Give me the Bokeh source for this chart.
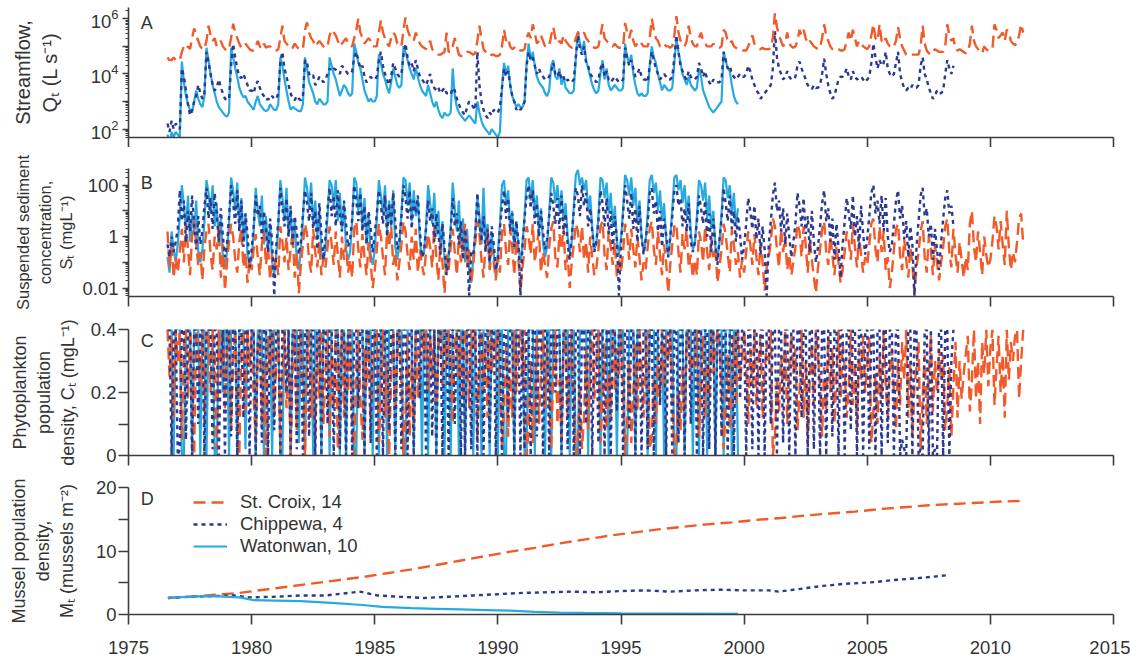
from bokeh.plotting import figure
from bokeh.layouts import column
from bokeh.models import Range1d, FixedTicker, Label, Legend, LegendItem
from bokeh.embed import file_html
from bokeh.resources import INLINE

# ---------------------------------------------------------------------------
# Monthly model output for three rivers, first record August 1976.
# Streamflow and sediment are given as log10 of the value.
# ---------------------------------------------------------------------------
YEAR0 = 1976 + 7 / 12

# Streamflow Q_t, log10(L s-1)
stcroix_flow_log10 = sum([
    [4.6, 4.5, 4.5, 4.6, 4.5],
    [4.5, 4.5, 4.8, 5.0, 4.9, 5.0, 4.9, 5.3, 5.65, 5.4, 5.2, 5.0],
    [4.9, 4.9, 5.2, 5.75, 5.4, 5.2, 5.3, 5.0, 5.1, 5.2, 5.0, 4.9],
    [4.85, 4.9, 5.3, 5.82, 5.5, 5.3, 5.1, 4.95, 5.0, 5.1, 5.0, 4.9],
    [4.85, 4.85, 5.0, 5.2, 5.0, 4.9, 5.1, 4.95, 5.0, 5.0, 4.9, 4.85],
    [4.85, 4.9, 5.3, 5.75, 5.2, 5.1, 5.0, 4.9, 4.95, 5.1, 5.0, 4.9],
    [4.9, 4.9, 5.6, 5.87, 5.5, 5.3, 5.2, 5.0, 5.1, 5.2, 5.1, 5.0],
    [4.95, 5.0, 5.4, 5.6, 5.5, 5.4, 5.2, 5.0, 5.1, 5.2, 5.3, 5.1],
    [5.0, 5.0, 5.3, 5.6, 6.0, 5.5, 5.3, 5.1, 5.2, 5.3, 5.2, 5.0],
    [5.0, 5.0, 5.5, 5.94, 5.5, 5.3, 5.1, 5.0, 5.3, 5.5, 5.4, 5.1],
    [5.0, 5.0, 5.6, 6.05, 5.6, 5.4, 5.3, 5.2, 5.5, 5.3, 5.1, 5.0],
    [4.95, 4.9, 5.1, 5.2, 4.9, 4.8, 4.75, 4.7, 4.7, 4.75, 4.8, 5.5],
    [4.8, 4.8, 5.0, 5.3, 5.0, 4.7, 4.65, 4.65, 4.7, 4.8, 4.8, 4.75],
    [4.7, 4.75, 5.2, 5.75, 5.3, 4.9, 4.8, 4.7, 4.65, 4.7, 4.7, 4.65],
    [4.65, 4.7, 5.0, 5.6, 5.2, 5.3, 5.0, 4.9, 4.95, 5.0, 4.9, 4.85],
    [4.85, 4.9, 5.3, 5.5, 5.3, 5.8, 5.5, 5.1, 5.2, 5.4, 5.2, 5.0],
    [5.0, 5.0, 5.4, 5.7, 5.3, 5.1, 5.2, 5.1, 5.4, 5.2, 5.1, 5.0],
    [4.95, 5.0, 5.3, 5.5, 5.4, 5.4, 5.5, 5.3, 5.2, 5.1, 5.0, 4.95],
    [4.95, 5.0, 5.4, 5.8, 5.3, 5.2, 5.1, 5.0, 5.0, 5.1, 5.0, 4.95],
    [4.95, 4.95, 5.85, 5.5, 5.3, 5.6, 5.2, 5.0, 5.1, 5.2, 5.1, 5.0],
    [5.0, 5.0, 5.3, 6.0, 5.6, 5.3, 5.2, 5.0, 5.0, 5.1, 5.0, 5.0],
    [4.95, 5.0, 5.4, 6.1, 5.5, 5.2, 5.1, 5.0, 5.2, 5.75, 5.3, 5.1],
    [5.0, 5.0, 5.3, 5.5, 5.2, 5.1, 5.0, 5.0, 5.0, 5.1, 5.0, 4.95],
    [4.95, 5.0, 5.6, 5.5, 5.2, 5.1, 5.2, 5.0, 4.95, 4.9, 4.85, 4.85],
    [4.85, 4.85, 5.0, 5.2, 5.4, 5.1, 5.0, 4.95, 4.9, 4.95, 4.9, 4.9],
    [4.9, 4.95, 5.3, 6.2, 5.7, 5.4, 5.2, 5.0, 5.1, 5.5, 5.1, 5.0],
    [4.95, 5.0, 5.2, 5.6, 5.4, 5.6, 5.3, 5.1, 5.2, 5.1, 5.0, 4.95],
    [4.9, 4.95, 5.3, 5.8, 5.4, 5.2, 5.0, 4.9, 4.85, 4.9, 4.9, 4.85],
    [4.85, 4.9, 5.2, 5.5, 5.2, 5.6, 5.3, 5.0, 5.2, 5.1, 5.0, 4.95],
    [4.9, 5.0, 5.4, 5.8, 5.3, 5.2, 5.8, 5.2, 5.1, 5.3, 5.1, 5.0],
    [4.95, 5.0, 5.2, 5.7, 5.3, 5.0, 4.85, 4.7, 4.65, 4.7, 4.7, 4.7],
    [4.7, 4.7, 5.0, 5.75, 5.1, 4.85, 4.75, 4.7, 4.8, 4.9, 4.85, 4.8],
    [4.8, 4.8, 5.0, 5.8, 5.4, 5.2, 5.3, 4.9, 4.85, 4.9, 4.85, 4.8],
    [4.75, 4.8, 5.1, 5.75, 5.2, 5.0, 4.9, 4.8, 4.75, 5.0, 4.9, 4.85],
    [4.85, 4.9, 5.8, 5.6, 5.3, 5.4, 5.5, 5.2, 5.6, 5.5, 5.2, 5.1],
    [5.05, 5.1, 5.4, 5.8, 5.5],
], [])

chippewa_flow_log10 = sum([
    [2.2, 1.9, 2.3, 2.0, 2.2],
    [2.1, 2.0, 4.2, 3.9, 3.4, 2.9, 2.5, 2.7, 3.0, 3.2, 3.6, 3.3],
    [3.1, 3.3, 4.8, 4.4, 4.0, 3.6, 3.4, 3.5, 3.8, 3.5, 3.3, 3.1],
    [3.05, 3.1, 4.3, 5.09, 4.6, 4.2, 3.9, 3.85, 4.0, 3.8, 3.6, 3.4],
    [3.4, 3.3, 3.6, 3.74, 3.5, 3.3, 3.2, 3.05, 3.1, 3.05, 3.2, 3.1],
    [3.1, 3.3, 4.45, 4.8, 4.2, 3.9, 3.6, 3.3, 3.1, 3.05, 3.2, 3.1],
    [3.05, 3.2, 4.5, 4.4, 4.0, 3.9, 3.95, 3.6, 3.7, 3.9, 3.8, 3.7],
    [3.8, 4.0, 4.2, 4.1, 4.2, 4.15, 4.1, 4.0, 4.3, 4.2, 4.1, 4.0],
    [4.0, 4.1, 4.6, 4.8, 4.5, 4.2, 4.3, 3.9, 3.7, 3.8, 3.9, 3.8],
    [3.8, 3.9, 4.5, 4.8, 4.3, 4.0, 3.8, 3.6, 3.9, 4.4, 4.2, 4.0],
    [3.9, 4.0, 4.7, 5.1, 4.6, 4.3, 4.4, 4.1, 4.5, 4.2, 3.9, 3.8],
    [3.7, 3.6, 3.8, 4.0, 3.6, 3.5, 3.4, 3.5, 3.3, 3.4, 3.5, 3.3],
    [3.3, 3.25, 3.5, 3.4, 3.1, 2.9, 2.7, 2.6, 2.5, 2.8, 3.0, 2.9],
    [2.8, 2.7, 4.8, 3.6, 3.0, 2.7, 2.5, 2.4, 2.6, 2.5, 2.7, 2.6],
    [2.6, 2.8, 3.5, 4.2, 3.9, 4.1, 3.6, 3.2, 3.0, 2.7, 2.8, 2.7],
    [2.8, 3.0, 4.3, 4.8, 4.5, 4.6, 4.3, 4.0, 4.2, 4.0, 3.9, 3.8],
    [3.8, 3.9, 4.1, 4.4, 4.0, 3.9, 4.1, 3.8, 3.9, 3.7, 3.8, 3.7],
    [3.7, 3.8, 4.6, 5.4, 4.9, 4.7, 5.0, 4.4, 4.3, 4.0, 3.9, 3.8],
    [3.7, 3.8, 4.2, 4.4, 3.9, 4.1, 3.8, 3.7, 3.8, 3.9, 3.8, 3.7],
    [3.7, 3.8, 4.95, 4.6, 4.3, 4.5, 4.2, 3.9, 4.0, 4.2, 3.9, 3.8],
    [3.8, 3.7, 4.3, 4.8, 4.5, 4.2, 4.0, 3.8, 3.9, 4.0, 3.9, 3.8],
    [3.8, 3.9, 4.6, 5.4, 4.8, 4.3, 4.1, 3.9, 3.8, 4.1, 3.9, 3.8],
    [3.8, 3.9, 4.4, 4.2, 3.9, 4.1, 3.8, 3.7, 3.6, 3.8, 3.7, 3.7],
    [3.7, 3.8, 4.8, 4.5, 4.2, 4.3, 4.0, 3.9, 3.8, 3.9, 4.0, 3.9],
    [3.9, 4.0, 4.3, 4.1, 3.8, 3.6, 3.4, 3.3, 3.1, 3.2, 3.3, 3.4],
    [3.5, 3.6, 4.2, 5.55, 4.6, 4.2, 4.0, 3.8, 3.9, 4.1, 3.9, 3.8],
    [3.8, 3.9, 4.3, 4.45, 4.2, 4.0, 3.8, 3.6, 3.5, 3.45, 3.6, 3.5],
    [3.5, 3.6, 4.0, 4.55, 4.0, 3.6, 3.3, 3.1, 3.2, 3.5, 3.8, 3.9],
    [3.9, 4.0, 4.2, 3.9, 3.8, 4.1, 3.9, 3.8, 3.85, 3.9, 3.8, 3.7],
    [3.8, 3.9, 4.4, 5.1, 4.6, 4.2, 4.5, 4.3, 4.4, 4.8, 4.2, 4.0],
    [3.9, 4.0, 4.4, 4.8, 4.0, 3.7, 3.5, 3.4, 3.5, 3.45, 3.6, 3.5],
    [3.5, 3.6, 4.3, 4.6, 4.0, 3.8, 3.5, 3.3, 3.1, 3.2, 3.4, 3.3],
    [3.3, 3.4, 4.0, 4.5, 4.2, 4.0, 4.3],
], [])

watonwan_flow_log10 = sum([
    [1.8, 1.5, 1.9, 1.7, 1.9],
    [1.8, 1.7, 4.45, 3.7, 3.2, 2.9, 2.7, 2.6, 3.0, 3.4, 3.1, 2.9],
    [2.8, 3.2, 4.95, 4.5, 4.0, 3.6, 3.3, 3.0, 2.8, 2.7, 2.6, 2.5],
    [2.45, 2.6, 4.95, 4.6, 4.2, 3.9, 3.5, 3.3, 3.15, 3.2, 3.0, 2.9],
    [2.8, 2.7, 3.0, 3.2, 2.9, 2.8, 2.7, 2.65, 2.7, 2.9, 2.8, 2.7],
    [2.7, 2.9, 4.6, 4.3, 3.8, 3.4, 3.0, 2.7, 2.8, 2.75, 2.7, 2.65],
    [2.65, 2.9, 4.6, 4.2, 3.7, 3.5, 3.3, 3.0, 2.9, 3.1, 3.0, 2.9],
    [2.9, 3.0, 4.6, 4.3, 4.0, 3.8, 3.5, 3.2, 3.4, 3.6, 3.5, 3.3],
    [3.2, 3.3, 5.1, 4.8, 4.4, 4.2, 3.8, 3.4, 3.2, 3.0, 3.1, 3.0],
    [3.0, 3.2, 4.7, 4.4, 4.0, 3.8, 3.5, 3.3, 3.7, 4.2, 3.9, 3.6],
    [3.5, 3.6, 5.0, 4.8, 4.5, 4.2, 4.0, 3.8, 4.2, 3.9, 3.6, 3.4],
    [3.3, 3.2, 3.6, 3.3, 3.0, 2.8, 3.0, 2.7, 2.5, 2.4, 2.6, 2.5],
    [2.5, 2.6, 4.2, 3.2, 2.8, 2.6, 2.5, 2.4, 2.3, 2.4, 2.5, 2.4],
    [2.3, 2.2, 3.0, 2.6, 2.3, 2.1, 2.0, 1.9, 1.8, 2.0, 1.9, 1.8],
    [1.7, 1.9, 3.5, 4.4, 4.0, 4.3, 3.6, 3.2, 3.0, 2.8, 2.9, 2.8],
    [2.8, 3.0, 4.4, 5.1, 4.5, 4.8, 4.3, 3.9, 3.7, 3.6, 3.5, 3.3],
    [3.2, 3.4, 4.3, 4.5, 3.9, 3.8, 4.2, 3.6, 3.9, 3.5, 3.4, 3.3],
    [3.3, 3.4, 4.6, 5.55, 5.1, 4.8, 5.2, 4.5, 4.2, 3.9, 3.6, 3.4],
    [3.3, 3.4, 4.0, 4.5, 3.8, 4.2, 3.6, 3.4, 3.5, 3.6, 3.5, 3.4],
    [3.4, 3.5, 5.1, 4.6, 4.4, 4.7, 4.0, 3.6, 3.3, 3.2, 3.3, 3.2],
    [3.2, 3.3, 4.3, 5.0, 4.6, 4.4, 4.0, 3.7, 3.4, 3.6, 3.5, 3.4],
    [3.4, 3.5, 4.4, 5.3, 4.8, 4.4, 4.0, 3.8, 3.6, 3.9, 3.6, 3.5],
    [3.4, 3.5, 4.2, 3.9, 3.4, 3.2, 3.0, 2.8, 2.7, 2.6, 2.7, 2.8],
    [2.9, 3.0, 4.8, 4.5, 4.2, 4.1, 3.6, 3.2, 3.0, 2.9],
], [])

# Suspended sediment concentration S_t, log10(mg L-1)
stcroix_sed_log10 = sum([
    [0.2, -1.2, -0.4, -1.6, -0.8],
    [-1.4, -0.6, 0.3, -1.0, 0.5, -0.5, -1.5, 0.1, 0.6, -0.3, -1.1, -0.6],
    [-1.7, -0.4, 0.2, 0.5, -0.7, -1.3, 0.0, -0.5, 0.4, -1.6, -0.3, -2.1],
    [-1.0, -0.2, 0.5, 0.0, -0.9, -1.4, -0.2, 0.3, -1.2, -0.6, -1.8, -0.9],
    [-1.3, -0.5, 0.1, -0.8, -1.5, -0.3, 0.2, -1.1, -0.4, -1.7, -0.7, -1.2],
    [-0.8, -1.5, 0.4, -0.2, -1.0, 0.0, -1.3, -0.5, 0.2, -1.6, -0.6, -2.2],
    [-1.1, -0.3, 0.5, 0.1, -0.9, -1.4, 0.3, -0.6, -1.2, -0.2, -1.5, -0.8],
    [-1.2, -0.4, 0.4, -0.3, -1.1, 0.2, -0.7, -1.6, 0.0, -0.9, -0.3, -1.4],
    [-0.9, -1.6, 0.3, 0.6, -0.5, -1.2, 0.1, -0.8, -1.5, -0.2, -1.0, -2.0],
    [-1.3, -0.5, 0.5, 0.0, -0.8, -1.5, 0.2, -0.4, 0.4, -1.1, -0.6, -1.7],
    [-1.0, -0.3, 0.6, 0.2, -0.7, -1.3, 0.0, -0.9, 0.3, -1.4, -0.5, -1.1],
    [-1.5, -0.6, 0.1, -0.4, -1.2, 0.4, -0.8, -1.7, -0.2, -1.0, -2.2, -0.7],
    [-1.3, -0.4, 0.3, -0.6, -1.5, 0.0, -1.0, -0.3, 0.5, -1.2, -0.5, -1.8],
    [-1.1, -0.2, 0.6, 0.1, -0.9, -1.6, -0.3, 0.2, -1.3, -0.5, -1.0, -1.7],
    [-0.8, -1.4, 0.2, 0.5, -0.6, -1.1, 0.3, -0.4, -1.5, -0.1, -0.9, -2.1],
    [-1.2, -0.5, 0.4, 0.0, -0.7, 0.5, -1.0, -0.3, 0.2, -1.4, -0.6, -1.1],
    [-1.6, -0.4, 0.3, 0.6, -0.8, -1.2, 0.1, -0.5, 0.4, -1.3, -0.7, -2.0],
    [-1.0, -0.3, 0.5, 0.2, -0.6, 0.4, -0.9, -0.2, -1.4, 0.0, -0.8, -1.5],
    [-1.2, -0.5, 0.4, 0.6, -0.7, -1.3, 0.2, -0.4, -1.1, -0.2, -1.6, -0.8],
    [-1.4, -0.6, 0.5, 0.1, -0.9, 0.3, -0.5, -1.2, 0.0, -0.8, -1.7, -1.0],
    [-1.3, -0.4, 0.3, 0.6, -0.5, -1.1, 0.2, -0.7, -1.5, -0.3, -1.0, -2.2],
    [-1.1, -0.3, 0.4, 0.5, -0.6, -1.4, 0.1, -0.5, 0.3, -1.2, -0.7, -1.6],
    [-0.9, -1.5, 0.2, -0.2, -1.0, 0.4, -0.6, -1.3, 0.0, -0.8, -0.4, -1.8],
    [-1.2, -0.5, 0.5, 0.1, -0.7, -1.4, 0.3, -0.3, -1.1, -0.6, -1.6, -0.9],
    [-1.4, -0.6, 0.2, -0.3, -1.1, 0.1, -0.8, -1.5, -0.2, -1.0, -2.1, -1.2],
    [-0.8, -0.2, 0.7, 0.4, -0.5, -1.2, 0.3, -0.6, 0.0, -1.3, -0.7, -1.5],
    [-1.0, -0.4, 0.5, 0.2, -0.8, 0.4, -0.3, -1.4, -0.1, -0.9, -1.6, -2.2],
    [-1.2, -0.5, 0.3, 0.6, -0.6, -1.1, 0.0, -0.7, -1.5, -0.4, -1.0, -1.8],
    [-1.3, -0.6, 0.2, -0.2, -0.9, 0.5, -0.4, -1.2, 0.1, -0.7, -1.4, -0.8],
    [-1.1, -0.3, 0.5, 0.7, -0.5, -1.0, 0.4, -0.6, 0.2, -1.3, -0.8, -2.0],
    [-1.4, -0.5, 0.3, 0.5, -0.7, -1.3, -0.1, -0.9, -1.6, -0.4, -1.1, -2.2],
    [-1.2, -0.6, 0.2, 0.6, -0.8, -1.4, 0.0, -0.5, -1.5, -0.3, -1.0, -1.7],
    [-1.0, -0.4, 0.4, 0.7, -0.6, -1.2, 0.3, -0.7, -1.4, -0.2, -0.9, -1.6],
    [-0.8, -1.3, 0.5, 1.0, -0.4, -1.0, 0.2, -0.6, -1.5, 0.0, -0.7, -1.2],
    [-0.9, -0.2, 0.8, 0.4, -0.5, 0.6, -0.3, -1.1, 1.0, -0.4, -1.3, -0.6],
    [-1.0, -0.2, 0.7, 0.9, -0.3],
], [])

chippewa_sed_log10 = sum([
    [-0.3, -0.8, 0.0, -0.6, -0.2],
    [0.3, 1.8, 0.6, 1.4, -0.2, 1.0, 0.2, 1.6, 0.4, -0.5, 0.8, -0.3],
    [0.2, 1.2, 1.9, 0.7, 1.5, 0.3, 1.7, 0.9, -0.2, 1.1, 0.0, -0.8],
    [-0.3, 0.8, 2.0, 1.3, 0.5, 1.8, 0.2, 1.4, -0.4, 0.9, 0.1, -1.2],
    [-0.5, 0.4, 1.6, 0.8, 1.2, -0.1, 1.0, 0.3, -0.6, 0.7, -0.2, -2.3],
    [-0.4, 0.6, 1.9, 1.1, 0.4, 1.5, 0.0, 1.2, -0.3, 0.8, 0.2, -0.7],
    [-0.2, 0.9, 1.8, 1.3, 0.6, 1.7, 0.3, 1.0, -0.5, 1.3, 0.1, -0.9],
    [0.0, 1.1, 1.9, 0.8, 1.6, 0.4, 1.8, 0.9, 0.2, 1.4, 0.5, -0.4],
    [-0.1, 0.7, 2.0, 1.4, 0.6, 1.7, 0.2, 1.2, -0.3, 1.0, 0.3, -0.6],
    [0.1, 0.9, 1.8, 1.2, 0.5, 1.6, 0.0, 1.3, 0.4, 1.7, 0.6, -0.5],
    [-0.2, 0.8, 2.0, 1.5, 0.7, 1.8, 0.3, 1.4, 0.9, 1.6, 0.2, -0.8],
    [-0.6, 0.3, 1.4, 0.6, 1.1, -0.2, 0.9, 0.1, -0.7, 0.5, -0.4, -1.5],
    [-0.8, 0.2, 1.5, 0.4, 0.9, -0.3, 0.6, -0.9, 0.3, -0.5, -2.3, -0.6],
    [-0.7, 0.1, 1.7, 0.5, -0.2, 0.8, -0.6, 0.3, -1.0, 0.4, -0.3, -1.3],
    [-0.9, 0.3, 1.2, 1.8, 0.7, 1.5, 0.2, 0.9, -0.4, 0.6, -0.2, -2.3],
    [-0.3, 0.7, 1.6, 2.0, 1.1, 1.8, 0.5, 1.3, 0.0, 1.0, 0.2, -0.5],
    [-0.1, 0.8, 1.7, 1.2, 0.5, 1.5, 0.3, 1.6, 0.1, 0.9, -0.3, -0.9],
    [0.0, 1.0, 1.9, 1.6, 0.8, 2.0, 1.2, 1.7, 0.4, 1.1, 0.2, -0.6],
    [-0.2, 0.6, 1.8, 1.3, 0.4, 1.5, 0.1, 1.0, -0.5, 0.8, -0.1, -2.3],
    [-0.3, 0.9, 2.0, 1.4, 0.7, 1.7, 0.3, 1.1, -0.2, 1.2, 0.0, -0.7],
    [-0.1, 0.5, 1.7, 1.9, 0.9, 1.4, 0.2, 1.0, -0.4, 0.7, 0.1, -0.8],
    [0.0, 0.8, 1.8, 2.0, 1.2, 1.5, 0.4, 1.1, 0.2, 1.3, -0.2, -0.6],
    [-0.2, 0.6, 1.6, 1.1, 0.5, 1.4, 0.0, 0.9, -0.6, 0.7, -0.3, -1.1],
    [-0.1, 0.7, 1.9, 1.3, 0.6, 1.6, 0.3, 1.0, -0.2, 0.8, 0.1, -0.9],
    [-0.4, 0.5, 1.5, 1.0, 0.3, 1.2, -0.1, 0.7, -0.7, 0.4, -0.5, -2.3],
    [-0.3, 0.6, 1.6, 2.1, 1.0, 1.4, 0.2, 1.1, -0.3, 0.9, 0.0, -0.8],
    [-0.2, 0.5, 1.7, 1.2, 0.4, 1.5, 0.1, 0.8, -0.6, 1.0, -0.2, -1.0],
    [-0.4, 0.4, 1.3, 1.8, 0.6, 1.1, -0.2, 0.7, -0.9, 0.5, -0.4, -1.6],
    [-0.3, 0.6, 1.5, 0.9, 0.3, 1.6, 0.0, 0.8, -0.5, 1.2, 0.1, -0.7],
    [-0.1, 0.8, 1.7, 2.0, 0.9, 1.4, 0.5, 1.6, 0.2, 1.5, 0.0, -0.6],
    [-0.3, 0.5, 1.4, 1.8, 0.7, 1.2, -0.1, 0.6, -0.8, 0.4, -0.3, -2.3],
    [-0.4, 0.6, 1.6, 1.9, 0.8, 1.1, 0.0, 0.5, -0.9, 0.3, -0.5, -1.3],
    [-0.2, 0.7, 1.5, 1.8, 0.9, 1.2, 0.4],
], [])

watonwan_sed_log10 = sum([
    [-0.8, -1.4, 0.2, -0.5, -1.0],
    [-0.3, 0.8, 2.0, 1.2, 0.3, 1.6, -0.2, 0.9, 0.1, 1.4, -0.6, -1.0],
    [-0.5, 0.6, 2.2, 1.7, 0.9, 2.0, 0.4, 1.3, -0.3, 0.7, -0.8, -1.2],
    [-0.6, 0.5, 2.3, 1.8, 1.0, 2.1, 0.3, 1.5, -0.2, 0.9, -0.7, -1.1],
    [-0.9, 0.2, 1.9, 1.0, 0.4, 1.6, -0.3, 0.8, -0.6, 0.5, -1.0, -1.5],
    [-0.7, 0.4, 2.2, 1.5, 0.6, 1.9, 0.0, 1.1, -0.4, 0.6, -0.9, -1.3],
    [-0.5, 0.7, 2.3, 1.9, 1.1, 2.1, 0.5, 1.4, 0.0, 1.0, -0.6, -1.0],
    [-0.4, 0.8, 2.2, 2.0, 1.2, 2.2, 0.6, 1.7, 0.2, 1.3, -0.5, -0.9],
    [-0.6, 0.6, 2.3, 2.1, 1.0, 1.9, 0.3, 1.5, -0.3, 0.8, -0.7, -1.1],
    [-0.5, 0.7, 2.2, 1.6, 0.9, 2.0, 0.2, 1.4, 0.4, 1.8, -0.4, -0.9],
    [-0.3, 0.9, 2.3, 2.2, 1.2, 2.1, 0.6, 1.8, 0.8, 1.5, -0.2, -0.8],
    [-0.6, 0.4, 2.0, 1.3, 0.5, 1.7, 0.0, 1.0, -0.5, 0.6, -0.9, -1.4],
    [-0.8, 0.3, 2.1, 1.1, 0.2, 1.4, -0.4, 0.7, -1.0, 0.3, -1.3, -1.8],
    [-0.9, 0.2, 1.6, 0.8, -0.3, 1.9, -0.2, 0.5, -1.2, 0.1, -0.7, -1.6],
    [-0.7, 0.5, 2.0, 2.2, 1.2, 1.8, 0.3, 1.0, -0.5, 0.6, -0.4, -1.0],
    [-0.3, 0.8, 2.2, 2.3, 1.4, 2.2, 0.9, 1.6, 0.2, 1.1, -0.3, -0.8],
    [-0.4, 0.9, 2.3, 2.1, 1.3, 2.0, 1.0, 1.8, 0.6, 1.3, 0.0, -0.6],
    [-0.2, 1.2, 2.4, 2.6, 2.0, 2.3, 1.8, 2.2, 1.0, 1.6, 0.3, -0.5],
    [-0.3, 0.8, 2.3, 2.2, 1.5, 2.1, 0.9, 1.7, 0.4, 1.2, -0.2, -0.7],
    [-0.1, 1.0, 2.4, 2.2, 1.6, 2.3, 1.2, 1.9, 0.5, 1.4, 0.0, -0.6],
    [-0.2, 0.9, 2.2, 2.4, 1.7, 2.1, 1.0, 1.8, 0.6, 1.3, -0.1, -0.8],
    [-0.1, 1.1, 2.3, 2.4, 1.8, 2.2, 1.3, 2.0, 0.8, 1.6, 0.2, -0.5],
    [-0.3, 0.8, 2.2, 2.0, 1.4, 2.1, 0.7, 1.6, 0.3, 1.0, -0.4, -0.9],
    [-0.2, 0.9, 2.3, 2.2, 1.5, 2.0, 0.8, 1.7, 0.4, 1.1],
], [])

# Phytoplankton population density C_t (mg L-1)
stcroix_phyto = sum([
    [0.40, 0.25, 0.38, 0.12, 0.40],
    [0.30, 0.40, 0.05, 0.35, 0.40, 0.18, 0.40, 0.28, 0.00, 0.40, 0.33, 0.22],
    [0.40, 0.10, 0.38, 0.40, 0.20, 0.40, 0.32, 0.02, 0.40, 0.26, 0.40, 0.15],
    [0.35, 0.40, 0.08, 0.30, 0.40, 0.22, 0.00, 0.36, 0.40, 0.14, 0.40, 0.28],
    [0.40, 0.18, 0.05, 0.34, 0.40, 0.10, 0.30, 0.00, 0.38, 0.25, 0.40, 0.12],
    [0.30, 0.40, 0.02, 0.25, 0.40, 0.15, 0.36, 0.00, 0.28, 0.40, 0.08, 0.33],
    [0.40, 0.20, 0.00, 0.32, 0.40, 0.12, 0.26, 0.05, 0.38, 0.18, 0.40, 0.10],
    [0.28, 0.40, 0.06, 0.35, 0.15, 0.40, 0.02, 0.30, 0.40, 0.12, 0.37, 0.20],
    [0.40, 0.10, 0.00, 0.30, 0.40, 0.18, 0.05, 0.34, 0.22, 0.40, 0.08, 0.27],
    [0.36, 0.40, 0.04, 0.20, 0.40, 0.12, 0.30, 0.00, 0.25, 0.40, 0.15, 0.32],
    [0.40, 0.22, 0.00, 0.14, 0.38, 0.06, 0.30, 0.10, 0.40, 0.18, 0.35, 0.40],
    [0.30, 0.40, 0.20, 0.38, 0.25, 0.40, 0.16, 0.34, 0.40, 0.22, 0.40, 0.28],
    [0.40, 0.30, 0.10, 0.36, 0.40, 0.24, 0.38, 0.18, 0.40, 0.32, 0.15, 0.40],
    [0.34, 0.40, 0.05, 0.28, 0.40, 0.20, 0.36, 0.12, 0.40, 0.26, 0.38, 0.30],
    [0.40, 0.25, 0.02, 0.14, 0.35, 0.06, 0.28, 0.12, 0.40, 0.20, 0.33, 0.40],
    [0.22, 0.40, 0.00, 0.08, 0.30, 0.04, 0.18, 0.38, 0.10, 0.26, 0.40, 0.15],
    [0.35, 0.20, 0.02, 0.28, 0.40, 0.10, 0.24, 0.06, 0.32, 0.40, 0.12, 0.30],
    [0.40, 0.15, 0.00, 0.05, 0.22, 0.02, 0.12, 0.34, 0.08, 0.28, 0.40, 0.18],
    [0.30, 0.40, 0.04, 0.18, 0.36, 0.08, 0.26, 0.12, 0.40, 0.20, 0.34, 0.25],
    [0.40, 0.22, 0.00, 0.10, 0.30, 0.04, 0.20, 0.36, 0.14, 0.40, 0.28, 0.12],
    [0.34, 0.40, 0.02, 0.06, 0.25, 0.10, 0.32, 0.16, 0.40, 0.22, 0.38, 0.30],
    [0.40, 0.18, 0.00, 0.04, 0.20, 0.08, 0.28, 0.14, 0.36, 0.40, 0.24, 0.32],
    [0.28, 0.40, 0.06, 0.22, 0.38, 0.12, 0.30, 0.18, 0.40, 0.26, 0.34, 0.40],
    [0.36, 0.20, 0.02, 0.14, 0.32, 0.08, 0.26, 0.38, 0.16, 0.40, 0.24, 0.30],
    [0.40, 0.28, 0.10, 0.34, 0.22, 0.40, 0.16, 0.30, 0.38, 0.12, 0.26, 0.36],
    [0.30, 0.40, 0.00, 0.06, 0.24, 0.14, 0.32, 0.20, 0.40, 0.10, 0.28, 0.38],
    [0.26, 0.34, 0.08, 0.20, 0.40, 0.12, 0.30, 0.04, 0.24, 0.36, 0.16, 0.40],
    [0.32, 0.22, 0.06, 0.28, 0.14, 0.38, 0.20, 0.34, 0.10, 0.26, 0.40, 0.18],
    [0.36, 0.28, 0.12, 0.22, 0.40, 0.16, 0.30, 0.08, 0.34, 0.24, 0.38, 0.20],
    [0.30, 0.38, 0.04, 0.14, 0.26, 0.10, 0.32, 0.18, 0.40, 0.22, 0.12, 0.28],
    [0.34, 0.20, 0.08, 0.30, 0.16, 0.36, 0.24, 0.40, 0.12, 0.30, 0.06, 0.22],
    [0.28, 0.36, 0.02, 0.18, 0.32, 0.10, 0.26, 0.38, 0.14, 0.30, 0.20, 0.34],
    [0.24, 0.32, 0.08, 0.16, 0.28, 0.06, 0.22, 0.36, 0.12, 0.30, 0.18, 0.26],
    [0.32, 0.38, 0.14, 0.24, 0.40, 0.18, 0.30, 0.10, 0.36, 0.26, 0.40, 0.22],
    [0.34, 0.40, 0.16, 0.28, 0.38, 0.20, 0.32, 0.12, 0.40, 0.24, 0.36, 0.30],
    [0.38, 0.40, 0.18, 0.30, 0.40],
], [])

chippewa_phyto = sum([
    [0.40, 0.40, 0.00, 0.40, 0.40],
    [0.00, 0.02, 0.40, 0.40, 0.05, 0.40, 0.40, 0.00, 0.40, 0.40, 0.10, 0.40],
    [0.40, 0.00, 0.40, 0.40, 0.40, 0.02, 0.40, 0.40, 0.00, 0.30, 0.40, 0.00],
    [0.40, 0.40, 0.06, 0.40, 0.40, 0.00, 0.40, 0.40, 0.12, 0.40, 0.40, 0.00],
    [0.40, 0.40, 0.00, 0.36, 0.40, 0.04, 0.40, 0.40, 0.00, 0.40, 0.40, 0.08],
    [0.40, 0.40, 0.00, 0.40, 0.40, 0.20, 0.40, 0.00, 0.40, 0.40, 0.02, 0.40],
    [0.40, 0.00, 0.40, 0.40, 0.06, 0.40, 0.40, 0.00, 0.40, 0.40, 0.00, 0.40],
    [0.40, 0.10, 0.40, 0.40, 0.00, 0.40, 0.40, 0.02, 0.40, 0.40, 0.00, 0.40],
    [0.40, 0.00, 0.40, 0.40, 0.15, 0.40, 0.40, 0.00, 0.40, 0.40, 0.04, 0.40],
    [0.40, 0.00, 0.40, 0.40, 0.00, 0.40, 0.40, 0.08, 0.40, 0.40, 0.00, 0.40],
    [0.40, 0.02, 0.40, 0.40, 0.00, 0.40, 0.40, 0.00, 0.40, 0.40, 0.18, 0.40],
    [0.40, 0.00, 0.40, 0.40, 0.06, 0.40, 0.00, 0.40, 0.40, 0.00, 0.40, 0.40],
    [0.00, 0.40, 0.40, 0.10, 0.40, 0.40, 0.00, 0.40, 0.00, 0.40, 0.40, 0.02],
    [0.40, 0.40, 0.00, 0.40, 0.40, 0.00, 0.40, 0.40, 0.04, 0.40, 0.40, 0.00],
    [0.40, 0.40, 0.00, 0.40, 0.40, 0.12, 0.40, 0.40, 0.00, 0.40, 0.40, 0.00],
    [0.40, 0.02, 0.40, 0.40, 0.00, 0.40, 0.40, 0.06, 0.40, 0.40, 0.00, 0.40],
    [0.40, 0.00, 0.40, 0.40, 0.20, 0.40, 0.40, 0.00, 0.40, 0.40, 0.02, 0.40],
    [0.40, 0.00, 0.40, 0.40, 0.00, 0.40, 0.40, 0.10, 0.40, 0.40, 0.00, 0.40],
    [0.40, 0.04, 0.40, 0.40, 0.00, 0.40, 0.40, 0.00, 0.40, 0.40, 0.14, 0.40],
    [0.40, 0.00, 0.40, 0.40, 0.08, 0.40, 0.40, 0.00, 0.40, 0.40, 0.00, 0.40],
    [0.40, 0.02, 0.40, 0.40, 0.00, 0.40, 0.40, 0.16, 0.40, 0.40, 0.00, 0.40],
    [0.40, 0.00, 0.40, 0.40, 0.04, 0.40, 0.40, 0.00, 0.40, 0.40, 0.10, 0.40],
    [0.40, 0.00, 0.40, 0.40, 0.00, 0.40, 0.40, 0.02, 0.40, 0.40, 0.00, 0.40],
    [0.40, 0.06, 0.40, 0.40, 0.00, 0.40, 0.40, 0.00, 0.40, 0.40, 0.18, 0.40],
    [0.40, 0.00, 0.40, 0.40, 0.02, 0.40, 0.40, 0.00, 0.40, 0.40, 0.00, 0.40],
    [0.40, 0.10, 0.40, 0.40, 0.00, 0.40, 0.40, 0.04, 0.40, 0.40, 0.00, 0.40],
    [0.40, 0.00, 0.40, 0.40, 0.12, 0.40, 0.40, 0.00, 0.40, 0.40, 0.02, 0.40],
    [0.40, 0.00, 0.40, 0.40, 0.00, 0.40, 0.40, 0.06, 0.40, 0.40, 0.00, 0.40],
    [0.40, 0.00, 0.40, 0.40, 0.08, 0.40, 0.40, 0.00, 0.40, 0.40, 0.00, 0.40],
    [0.40, 0.02, 0.40, 0.40, 0.00, 0.40, 0.40, 0.00, 0.40, 0.40, 0.04, 0.40],
    [0.40, 0.00, 0.40, 0.40, 0.00, 0.05, 0.02, 0.00, 0.40, 0.40, 0.00, 0.40],
    [0.40, 0.00, 0.02, 0.00, 0.40, 0.40, 0.00, 0.40, 0.00, 0.02, 0.00, 0.40],
    [0.40, 0.00, 0.40, 0.40, 0.00, 0.30, 0.40],
], [])

watonwan_phyto = sum([
    [0.40, 0.40, 0.40, 0.00, 0.40],
    [0.40, 0.40, 0.00, 0.00, 0.40, 0.40, 0.40, 0.00, 0.40, 0.40, 0.40, 0.00],
    [0.40, 0.40, 0.00, 0.40, 0.40, 0.40, 0.00, 0.00, 0.40, 0.40, 0.20, 0.40],
    [0.40, 0.00, 0.40, 0.40, 0.40, 0.00, 0.40, 0.40, 0.40, 0.02, 0.40, 0.40],
    [0.40, 0.40, 0.00, 0.40, 0.40, 0.40, 0.00, 0.40, 0.40, 0.40, 0.00, 0.40],
    [0.40, 0.40, 0.00, 0.00, 0.40, 0.40, 0.40, 0.00, 0.40, 0.40, 0.40, 0.04],
    [0.40, 0.40, 0.00, 0.40, 0.40, 0.40, 0.00, 0.40, 0.40, 0.40, 0.00, 0.40],
    [0.40, 0.40, 0.00, 0.40, 0.40, 0.40, 0.40, 0.00, 0.40, 0.40, 0.00, 0.40],
    [0.40, 0.40, 0.00, 0.00, 0.40, 0.40, 0.40, 0.00, 0.40, 0.40, 0.40, 0.00],
    [0.40, 0.40, 0.00, 0.40, 0.40, 0.40, 0.00, 0.40, 0.40, 0.40, 0.00, 0.40],
    [0.40, 0.40, 0.00, 0.00, 0.40, 0.40, 0.40, 0.02, 0.40, 0.40, 0.40, 0.00],
    [0.40, 0.40, 0.00, 0.40, 0.40, 0.40, 0.00, 0.40, 0.40, 0.40, 0.00, 0.40],
    [0.40, 0.00, 0.40, 0.40, 0.40, 0.00, 0.40, 0.40, 0.00, 0.40, 0.40, 0.40],
    [0.00, 0.40, 0.40, 0.40, 0.00, 0.40, 0.40, 0.40, 0.00, 0.40, 0.40, 0.40],
    [0.00, 0.40, 0.40, 0.00, 0.00, 0.40, 0.40, 0.40, 0.00, 0.40, 0.40, 0.40],
    [0.40, 0.00, 0.00, 0.40, 0.40, 0.40, 0.00, 0.40, 0.40, 0.40, 0.40, 0.00],
    [0.40, 0.40, 0.00, 0.40, 0.40, 0.40, 0.40, 0.00, 0.40, 0.40, 0.40, 0.00],
    [0.40, 0.40, 0.00, 0.00, 0.40, 0.40, 0.40, 0.40, 0.00, 0.40, 0.40, 0.40],
    [0.40, 0.40, 0.00, 0.40, 0.40, 0.40, 0.00, 0.40, 0.40, 0.40, 0.00, 0.40],
    [0.40, 0.40, 0.00, 0.00, 0.40, 0.40, 0.40, 0.00, 0.40, 0.40, 0.40, 0.40],
    [0.40, 0.00, 0.40, 0.40, 0.40, 0.00, 0.40, 0.40, 0.40, 0.00, 0.40, 0.40],
    [0.40, 0.40, 0.00, 0.00, 0.40, 0.40, 0.40, 0.00, 0.40, 0.40, 0.40, 0.00],
    [0.40, 0.40, 0.00, 0.40, 0.40, 0.40, 0.00, 0.40, 0.40, 0.40, 0.00, 0.40],
    [0.40, 0.40, 0.00, 0.40, 0.40, 0.40, 0.00, 0.40, 0.40, 0.00],
], [])

# Mussel population density M_t (mussels m-2), sampled yearly
stcroix_mussel_year = [1976.6, 1977.5, 1978.5, 1979.5, 1980.5, 1981.5, 1982.5, 1983.5,
                       1984.5, 1985.5, 1986.5, 1987.5, 1988.5, 1989.5, 1990.5, 1991.5,
                       1992.5, 1993.5, 1994.5, 1995.5, 1996.5, 1997.5, 1998.5, 1999.5,
                       2000.5, 2001.5, 2002.5, 2003.5, 2004.5, 2005.5, 2006.5, 2007.5,
                       2008.5, 2009.5, 2010.5, 2011.4]
stcroix_mussel = [2.6, 2.8, 3.1, 3.4, 3.9, 4.4, 4.9, 5.4, 5.9, 6.5, 7.1, 7.8, 8.5, 9.2,
                  9.9, 10.5, 11.2, 11.8, 12.4, 12.9, 13.4, 13.8, 14.2, 14.5, 14.9, 15.2,
                  15.6, 15.9, 16.2, 16.6, 16.9, 17.2, 17.4, 17.6, 17.8, 17.9]
chippewa_mussel_year = [1976.6, 1977.5, 1978.5, 1979.3, 1979.9, 1981.0, 1982.0, 1983.0,
                        1984.4, 1985.1, 1986.0, 1987.0, 1988.0, 1989.0, 1990.0, 1991.0,
                        1992.0, 1993.0, 1994.0, 1995.0, 1996.0, 1997.0, 1998.0, 1999.0,
                        2000.0, 2001.0, 2001.4, 2002.0, 2003.2, 2004.0, 2005.3, 2006.0,
                        2007.0, 2008.3]
chippewa_mussel = [2.6, 2.8, 2.9, 3.0, 2.7, 2.8, 3.0, 3.0, 3.6, 3.0, 2.8, 2.6, 2.8, 3.0,
                   3.2, 3.4, 3.5, 3.6, 3.5, 3.7, 3.8, 3.6, 3.8, 3.9, 3.8, 3.8, 3.6, 3.9,
                   4.5, 4.8, 5.1, 5.4, 5.7, 6.2]
watonwan_mussel_year = [1976.6, 1977.5, 1978.5, 1979.5, 1980.1, 1981.0, 1982.0, 1983.4,
                        1984.5, 1985.3, 1986.5, 1987.5, 1988.5, 1989.5, 1990.5, 1991.5,
                        1992.5, 1993.5, 1995.0, 1997.0, 1999.75]
watonwan_mussel = [2.6, 2.8, 2.9, 2.7, 2.25, 2.2, 2.1, 1.8, 1.5, 1.2, 1.0, 0.9, 0.8, 0.7,
                   0.6, 0.4, 0.3, 0.25, 0.2, 0.15, 0.1]

RIVERS = ["St. Croix, 14", "Chippewa, 4", "Watonwan, 10"]
TICK_YEARS = [1975, 1980, 1985, 1990, 1995, 2000, 2005, 2010, 2015]

# ---------------------------------------------------------------------------
FONT = "Liberation Sans"
AX = "#3d3d3d"
TXT = "#333333"
ORANGE = "#F15A29"
NAVY = "#2B3990"
SKY = "#27AAE1"
STYLE = {
    "stcroix": dict(line_color=ORANGE, line_width=2.4, line_dash="12 6"),
    "chippewa": dict(line_color=NAVY, line_width=2.4, line_dash="4 4"),
    "watonwan": dict(line_color=SKY, line_width=2.2),
}


def monthly(vals):
    return [YEAR0 + i / 12 for i in range(len(vals))]


def pow10(vals):
    return [10 ** v for v in vals]


def make_panel(y_range, y_type, frame_h, top, bottom, show_x_labels, title_size):
    p = figure(frame_width=985, frame_height=frame_h,
               x_range=Range1d(1975, 2015), y_range=y_range, y_axis_type=y_type,
               output_backend="svg", toolbar_location=None,
               min_border_left=128, min_border_right=17,
               min_border_top=top, min_border_bottom=bottom)
    p.outline_line_color = None
    p.grid.visible = False
    p.background_fill_color = "white"
    p.border_fill_color = "white"
    for ax in p.axis:
        ax.axis_line_color = AX
        ax.axis_line_width = 1.6
        ax.major_tick_line_color = AX
        ax.major_tick_line_width = 1.6
        ax.minor_tick_line_color = AX
        ax.minor_tick_line_width = 1.2
        ax.major_tick_in = 0
        ax.minor_tick_in = 0
        ax.major_label_text_font = FONT
        ax.major_label_text_font_size = "18.5px"
        ax.major_label_text_color = TXT
        ax.axis_label_text_font = FONT
        ax.axis_label_text_font_size = title_size
        ax.axis_label_text_font_style = "normal"
        ax.axis_label_text_color = TXT
    xa = p.xaxis[0]
    xa.ticker = FixedTicker(ticks=TICK_YEARS, minor_ticks=[])
    xa.major_tick_out = 10
    xa.major_label_standoff = 16
    if not show_x_labels:
        xa.major_label_overrides = {t: "" for t in TICK_YEARS}
        xa.major_label_text_font_size = "0px"
        xa.major_label_standoff = 0
    return p


def panel_letter(p, text, y):
    p.add_layout(Label(x=1975.5, y=y, text=text, text_font=FONT, text_font_size="18px",
                       text_color=TXT, text_align="left", text_baseline="middle"))


# ---- A: streamflow ----
pA = make_panel(Range1d(10 ** 1.695, 10 ** 6.41), "log", 130, 7, 10, False, "20px")
ya = pA.yaxis[0]
ya.ticker = FixedTicker(ticks=[1e2, 1e3, 1e4, 1e5, 1e6],
                        minor_ticks=[m * 10 ** e for e in range(1, 7) for m in range(2, 10)])
ya.major_label_overrides = {1e3: "", 1e5: ""}
ya.major_tick_out = 6
ya.minor_tick_out = 3
ya.major_label_standoff = 4
ya.axis_label = "Streamflow,\nQₜ (L s⁻¹)"
ya.axis_label_standoff = 27
pA.line(monthly(watonwan_flow_log10), pow10(watonwan_flow_log10), **STYLE["watonwan"])
pA.line(monthly(chippewa_flow_log10), pow10(chippewa_flow_log10), **STYLE["chippewa"])
pA.line(monthly(stcroix_flow_log10), pow10(stcroix_flow_log10), **STYLE["stcroix"])
panel_letter(pA, "A", 6.8e5)

# ---- B: suspended sediment ----
pB = make_panel(Range1d(10 ** -2.33, 10 ** 2.65), "log", 128, 21, 17, False, "16.5px")
yb = pB.yaxis[0]
yb.ticker = FixedTicker(ticks=[0.01, 0.1, 1, 10, 100],
                        minor_ticks=[m * 10.0 ** e for e in range(-3, 3) for m in range(2, 10)])
yb.major_label_overrides = {0.01: "0.01", 0.1: "", 1: "1", 10: "", 100: "100"}
yb.major_tick_out = 6
yb.minor_tick_out = 3
yb.major_label_standoff = 4
yb.axis_label = "Suspended sediment\nconcentration,\nSₜ (mgL⁻¹)"
yb.axis_label_standoff = 4
pB.line(monthly(watonwan_sed_log10), pow10(watonwan_sed_log10), **STYLE["watonwan"])
pB.line(monthly(stcroix_sed_log10), pow10(stcroix_sed_log10), **STYLE["stcroix"])
pB.line(monthly(chippewa_sed_log10), pow10(chippewa_sed_log10), **STYLE["chippewa"])
panel_letter(pB, "B", 126)

# ---- C: phytoplankton ----
pC = make_panel(Range1d(0, 0.4), "linear", 126, 16, 11, False, "18px")
yc = pC.yaxis[0]
yc.ticker = FixedTicker(ticks=[0, 0.1, 0.2, 0.3, 0.4], minor_ticks=[])
yc.major_label_overrides = {0: "0", 0.1: "", 0.2: "0.2", 0.3: "", 0.4: "0.4"}
yc.major_tick_out = 10
yc.major_label_standoff = 2
yc.axis_label = "Phytoplankton\npopulation\ndensity, Cₜ (mgL⁻¹)"
yc.axis_label_standoff = 10
pC.line(monthly(watonwan_phyto), watonwan_phyto, **STYLE["watonwan"])
pC.line(monthly(stcroix_phyto), stcroix_phyto, **STYLE["stcroix"])
pC.line(monthly(chippewa_phyto), chippewa_phyto, **STYLE["chippewa"])
panel_letter(pC, "C", 0.365)

# ---- D: mussels ----
pD = make_panel(Range1d(0, 20), "linear", 127, 21, 43, True, "18px")
yd = pD.yaxis[0]
yd.ticker = FixedTicker(ticks=[0, 5, 10, 15, 20], minor_ticks=[])
yd.major_label_overrides = {5: "", 15: ""}
yd.major_tick_out = 10
yd.major_label_standoff = 2
yd.axis_label = "Mussel population\ndensity,\nMₜ (mussels m⁻²)"
yd.axis_label_standoff = 16
r_sc = pD.line(stcroix_mussel_year, stcroix_mussel, **STYLE["stcroix"])
r_ch = pD.line(chippewa_mussel_year, chippewa_mussel, **STYLE["chippewa"])
r_wa = pD.line(watonwan_mussel_year, watonwan_mussel, **STYLE["watonwan"])
panel_letter(pD, "D", 18.15)

legend = Legend(items=[LegendItem(label=RIVERS[0], renderers=[r_sc]),
                       LegendItem(label=RIVERS[1], renderers=[r_ch]),
                       LegendItem(label=RIVERS[2], renderers=[r_wa])],
                location=(65, 57))
legend.border_line_color = None
legend.background_fill_alpha = 0
legend.label_text_font = FONT
legend.label_text_font_size = "18.5px"
legend.label_text_color = TXT
legend.glyph_width = 34
legend.glyph_height = 20
legend.label_height = 20
legend.spacing = 0
legend.padding = 0
legend.margin = 0
legend.label_standoff = 13
pD.add_layout(legend)

layout = column(pA, pB, pC, pD)
with open("out.html", "w") as f:
    f.write(file_html(layout, INLINE))
